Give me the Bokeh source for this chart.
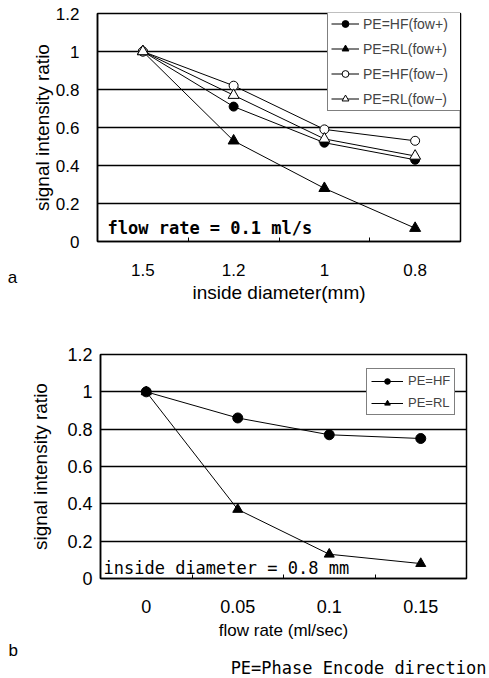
from bokeh.plotting import figure
from bokeh.models import Range1d, FixedTicker, Legend, LegendItem, Label
from bokeh.layouts import column, row
from bokeh.embed import file_html
from bokeh.resources import INLINE

# ---- data ----
diam_labels = ["1.5", "1.2", "1", "0.8"]
hf_flow_pos = [1.0, 0.71, 0.52, 0.43]
rl_flow_pos = [1.0, 0.53, 0.28, 0.07]
hf_flow_neg = [1.0, 0.82, 0.59, 0.53]
rl_flow_neg = [1.0, 0.77, 0.54, 0.45]

rate_labels = ["0", "0.05", "0.1", "0.15"]
hf_rate = [1.0, 0.86, 0.77, 0.75]
rl_rate = [1.0, 0.37, 0.13, 0.08]

y_ticks = [0, 0.2, 0.4, 0.6, 0.8, 1.0, 1.2]
y_tick_labels = ["0", "0.2", "0.4", "0.6", "0.8", "1", "1.2"]

SANS = "Liberation Sans"
MONO = "DejaVu Sans Mono"


def make_fig(width, height, borders, xlabels, xlab, xlab_size, tick_size,
             ylab_standoff, ytick_standoff, xtick_standoff, xlab_standoff):
    top, right, bottom, left = borders
    p = figure(width=width, height=height, output_backend="svg",
               toolbar_location=None, x_range=Range1d(0, len(xlabels)),
               y_range=Range1d(0, 1.2),
               min_border_top=top, min_border_right=right,
               min_border_bottom=bottom, min_border_left=left)
    p.background_fill_color = "white"
    p.border_fill_color = "white"
    p.outline_line_color = "black"
    p.outline_line_width = 1.5
    centers = [i + 0.5 for i in range(len(xlabels))]
    p.xaxis.ticker = FixedTicker(ticks=centers,
                                 minor_ticks=list(range(1, len(xlabels))))
    p.xaxis.major_label_overrides = {c: l for c, l in zip(centers, xlabels)}
    p.xaxis.major_tick_in = 0
    p.xaxis.major_tick_out = 0
    p.xaxis.minor_tick_in = 4
    p.xaxis.minor_tick_out = 0
    p.xaxis.minor_tick_line_color = "black"
    p.xaxis.minor_tick_line_width = 1
    p.xaxis.axis_line_width = 1.5
    p.xaxis.axis_label = xlab
    p.xaxis.axis_label_text_font = SANS
    p.xaxis.axis_label_text_font_style = "normal"
    p.xaxis.axis_label_text_font_size = xlab_size
    p.xaxis.axis_label_text_color = "black"
    p.xaxis.axis_label_standoff = xlab_standoff
    p.xaxis.major_label_text_font = SANS
    p.xaxis.major_label_text_font_size = tick_size
    p.xaxis.major_label_text_color = "black"
    p.xaxis.major_label_standoff = xtick_standoff

    p.yaxis.ticker = FixedTicker(ticks=y_ticks, minor_ticks=[])
    p.yaxis.major_label_overrides = {t: l for t, l in zip(y_ticks, y_tick_labels)}
    p.yaxis.major_tick_in = 0
    p.yaxis.major_tick_out = 0
    p.yaxis.axis_line_width = 1.5
    p.yaxis.axis_label = "signal intensity ratio"
    p.yaxis.axis_label_text_font = SANS
    p.yaxis.axis_label_text_font_style = "normal"
    p.yaxis.axis_label_text_font_size = "19px"
    p.yaxis.axis_label_text_color = "black"
    p.yaxis.axis_label_standoff = ylab_standoff
    p.yaxis.major_label_text_font = SANS
    p.yaxis.major_label_text_font_size = tick_size
    p.yaxis.major_label_text_color = "black"
    p.yaxis.major_label_standoff = ytick_standoff

    p.xgrid.visible = False
    p.ygrid.ticker = FixedTicker(ticks=y_ticks)
    p.ygrid.grid_line_color = "black"
    p.ygrid.grid_line_width = 1.5
    return p, centers


def blank_fig(width, height):
    f = figure(width=width, height=height, output_backend="svg",
               toolbar_location=None, x_axis_type=None, y_axis_type=None,
               x_range=Range1d(0, width), y_range=Range1d(0, 1), min_border=0)
    f.outline_line_color = None
    f.background_fill_color = "white"
    f.border_fill_color = "white"
    return f


def add_series(p, xs, ys, marker, filled, size):
    ln = p.line(xs, ys, line_color="black", line_width=1)
    sc = p.scatter(xs, ys, marker=marker, size=size, line_color="black",
                   line_width=1,
                   fill_color="black" if filled else "white")
    return [ln, sc]


# ---- chart a ----
pa, xa = make_fig(468, 318, (13, 28, 77, 77), diam_labels,
                  "inside diameter(mm)", "19px", "17px",
                  ylab_standoff=0, ytick_standoff=18, xtick_standoff=22,
                  xlab_standoff=3)
ra1 = add_series(pa, xa, hf_flow_pos, "circle", True, 9)
ra2 = add_series(pa, xa, rl_flow_pos, "triangle", True, 11)
ra3 = add_series(pa, xa, hf_flow_neg, "circle", False, 9)
ra4 = add_series(pa, xa, rl_flow_neg, "triangle", False, 11)
leg_a = Legend(items=[
    LegendItem(label="PE=HF(fow+)", renderers=ra1),
    LegendItem(label="PE=RL(fow+)", renderers=ra2),
    LegendItem(label="PE=HF(fow\u2212)", renderers=ra3),
    LegendItem(label="PE=RL(fow\u2212)", renderers=ra4),
], location=(230, 130), orientation="vertical",
    label_text_font=SANS, label_text_font_size="14px",
    label_height=17, glyph_height=17, glyph_width=28, spacing=8,
    padding=3, margin=0, label_standoff=4, label_width=98,
    border_line_color="black", border_line_width=1.5,
    background_fill_color="white", background_fill_alpha=1.0)
pa.add_layout(leg_a, "center")
pa.add_layout(Label(x=10, y=14, x_units="screen", y_units="screen",
                    text="flow rate = 0.1 ml/s", text_font=MONO,
                    text_font_style="bold", text_font_size="17px",
                    text_baseline="middle", text_align="left",
                    text_color="black"))

# panel letter "a" as a one-tick axis on a narrow strip beside chart a
la = figure(width=20, height=318, output_backend="svg",
            toolbar_location=None, x_range=Range1d(0, 20),
            y_range=Range1d(0, 1), y_axis_type=None, min_border=0)
la.outline_line_color = None
la.xgrid.visible = False
la.xaxis.ticker = FixedTicker(ticks=[12], minor_ticks=[])
la.xaxis.major_label_overrides = {12: "a"}
la.xaxis.axis_line_color = None
la.xaxis.major_tick_line_color = None
la.xaxis.minor_tick_line_color = None
la.xaxis.major_label_standoff = 20
la.xaxis.major_label_text_font = SANS
la.xaxis.major_label_text_font_size = "17px"
la.xaxis.major_label_text_color = "black"

# ---- chart b ----
pb, xb = make_fig(468, 324, (36, 22, 64, 80), rate_labels,
                  "flow rate (ml/sec)", "17px", "18px",
                  ylab_standoff=13, ytick_standoff=8, xtick_standoff=21,
                  xlab_standoff=5)
rb1 = add_series(pb, xb, hf_rate, "circle", True, 10)
rb2 = add_series(pb, xb, rl_rate, "triangle", True, 10)
leg_b = Legend(items=[
    LegendItem(label="PE=HF", renderers=rb1),
    LegendItem(label="PE=RL", renderers=rb2),
], location=(266, 163), orientation="vertical",
    label_text_font=SANS, label_text_font_size="13px",
    label_height=14, glyph_height=14, glyph_width=32, spacing=7,
    padding=4, margin=0, label_standoff=5,
    border_line_color="black", border_line_width=1.5,
    background_fill_color="white", background_fill_alpha=1.0)
pb.add_layout(leg_b, "center")
pb.add_layout(Label(x=3, y=11, x_units="screen", y_units="screen",
                    text="inside diameter = 0.8 mm", text_font=MONO,
                    text_font_size="17px",
                    text_baseline="middle", text_align="left",
                    text_color="black"))
lb = blank_fig(20, 324)

# bottom strip: panel letter "b" and the footnote
pe = blank_fig(488, 35)
pe.add_layout(Label(x=8, y=27, x_units="screen", y_units="screen",
                    text="b", text_font=SANS, text_font_size="17px",
                    text_baseline="middle", text_align="left",
                    text_color="black"))
pe.add_layout(Label(x=486, y=10, x_units="screen", y_units="screen",
                    text="PE=Phase Encode direction", text_font=MONO,
                    text_font_size="17px", text_baseline="middle",
                    text_align="right", text_color="black"))

layout = column(row(la, pa, spacing=0), row(lb, pb, spacing=0), pe,
                spacing=0)
open("out.html", "w").write(file_html(layout, INLINE))
